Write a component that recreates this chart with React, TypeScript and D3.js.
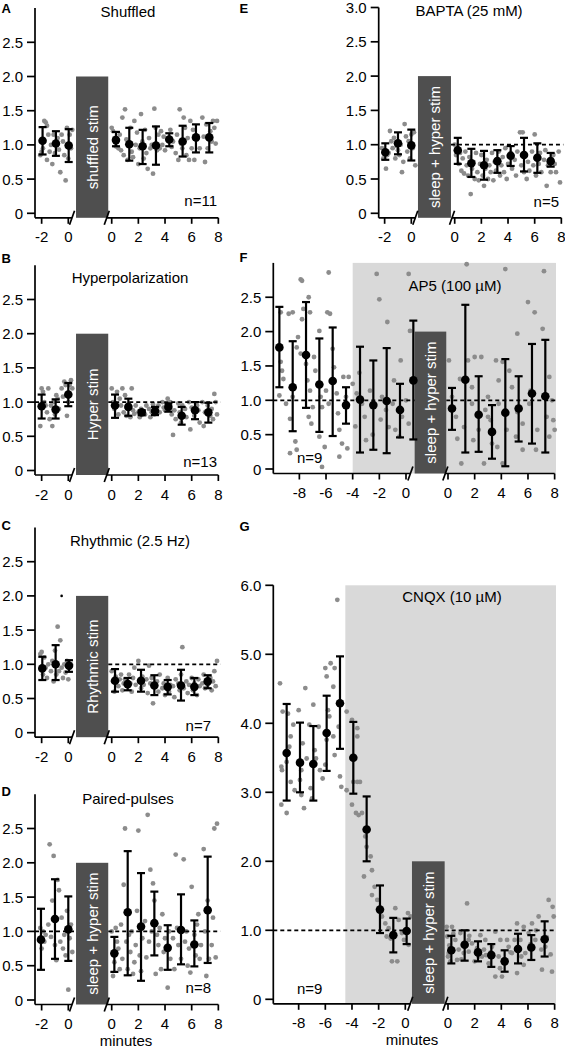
import React from 'react';
import * as d3 from 'd3';

type Pt = [number, number];
type Row = [number, number, number, number]; // time, mean, low, high

// ---------- tick labels ----------
const leftYTicks = [0, 0.5, 1, 1.5, 2, 2.5];
const eYTicks = [0, 0.5, 1, 1.5, 2, 2.5, 3];
const gYTicks = [0, 1, 2, 3, 4, 5, 6];
const shortPreTicks = [-2, 0];
const longPreTicks = [-8, -6, -4, -2, 0];
const postTicks = [0, 2, 4, 6, 8];

// ---------- A: Shuffled ----------
const aMeansPre: Row[] = [[-1.93, 1.06, 0.86, 1.26], [-0.93, 1.02, 0.84, 1.2], [0.03, 0.99, 0.75, 1.23]];
const aMeansPost: Row[] = [[0.32, 1.07, 0.98, 1.19], [1.32, 1.01, 0.77, 1.25], [2.32, 0.98, 0.72, 1.22], [3.32, 0.99, 0.71, 1.27], [4.32, 1.08, 0.98, 1.17], [5.32, 1.05, 0.83, 1.28], [6.32, 1.11, 0.89, 1.3], [7.32, 1.11, 0.89, 1.32]];
const aDotsPre: Pt[] = [[-2.1, 0.85], [-2.0, 0.9], [-1.8, 1.35], [-1.7, 1.33], [-1.6, 1.28], [-1.5, 1.15], [-1.9, 0.95], [-1.6, 0.78], [-1.4, 0.9], [-1.3, 1.0], [-1.2, 0.72], [-1.1, 1.15], [-1.0, 0.88], [-0.8, 1.1], [-0.7, 0.93], [-0.6, 0.6], [-0.5, 1.15], [-0.4, 1.05], [-0.3, 0.85], [-0.2, 0.48], [-0.1, 1.25], [0.0, 0.8], [0.1, 1.15], [0.2, 0.95], [0.3, 1.22]];
const aDotsPost: Pt[] = [[0.0, 1.25], [0.1, 1.2], [0.2, 1.1], [0.3, 0.98], [0.4, 1.05], [0.5, 0.95], [0.6, 1.15], [0.7, 0.92], [0.8, 1.4], [0.9, 0.85], [1.0, 1.52], [1.1, 1.08], [1.2, 0.78], [1.4, 1.25], [1.5, 0.9], [1.6, 0.82], [1.7, 1.35], [1.8, 1.0], [1.9, 1.18], [2.0, 0.72], [2.1, 0.95], [2.2, 1.45], [2.3, 1.05], [2.4, 0.8], [2.5, 1.22], [2.6, 0.88], [2.7, 0.65], [2.8, 1.1], [2.9, 0.95], [3.0, 1.0], [3.1, 0.58], [3.2, 1.53], [3.3, 1.25], [3.4, 0.92], [3.5, 1.15], [3.6, 0.95], [3.7, 1.2], [3.8, 1.0], [3.9, 1.12], [4.0, 0.92], [4.2, 1.1], [4.4, 1.22], [4.5, 0.97], [4.6, 1.05], [4.8, 0.88], [4.9, 1.15], [5.0, 0.78], [5.1, 1.52], [5.2, 1.02], [5.3, 0.95], [5.4, 1.4], [5.5, 1.25], [5.6, 0.85], [5.7, 1.1], [5.8, 0.78], [5.9, 1.35], [6.0, 0.95], [6.1, 1.22], [6.2, 0.78], [6.4, 1.08], [6.6, 0.95], [6.8, 1.4], [6.9, 1.12], [7.0, 0.75], [7.1, 1.3], [7.2, 0.95], [7.4, 1.2], [7.5, 1.05], [7.6, 1.35], [7.7, 1.25], [7.8, 1.02], [7.9, 1.35]];

// ---------- B: Hyperpolarization ----------
const bMeansPre: Row[] = [[-2.0, 0.94, 0.76, 1.11], [-0.95, 0.89, 0.76, 1.04], [0.0, 1.11, 0.94, 1.28]];
const bMeansPost: Row[] = [[0.25, 0.95, 0.77, 1.11], [1.25, 0.93, 0.8, 1.05], [2.25, 0.85, 0.81, 0.88], [3.25, 0.87, 0.81, 0.93], [4.25, 0.93, 0.86, 0.98], [5.25, 0.8, 0.67, 0.93], [6.25, 0.88, 0.75, 1.0], [7.25, 0.85, 0.7, 0.99]];
const bDotsPre: Pt[] = [[-2.1, 0.65], [-2.0, 1.2], [-1.9, 1.15], [-1.8, 1.0], [-1.7, 0.95], [-1.6, 0.85], [-1.5, 1.2], [-1.4, 0.75], [-1.3, 0.95], [-1.2, 0.65], [-1.1, 1.0], [-1.0, 0.82], [-0.9, 1.1], [-0.8, 1.05], [-0.7, 0.9], [-0.5, 1.2], [-0.4, 1.08], [-0.3, 1.3], [-0.2, 1.25], [-0.1, 0.8], [0.0, 1.0], [0.1, 1.25], [0.2, 1.32], [0.3, 1.2]];
const bDotsPost: Pt[] = [[0.0, 1.2], [0.1, 1.0], [0.2, 0.9], [0.4, 1.15], [0.5, 0.82], [0.6, 1.05], [0.7, 0.95], [0.8, 1.2], [0.9, 0.85], [1.0, 1.1], [1.1, 0.8], [1.2, 0.95], [1.4, 0.78], [1.5, 1.2], [1.6, 0.88], [1.7, 0.83], [1.8, 0.95], [2.0, 0.85], [2.1, 0.78], [2.2, 0.9], [2.4, 0.86], [2.5, 0.82], [2.6, 0.95], [2.8, 0.9], [2.9, 0.78], [3.0, 0.85], [3.1, 0.97], [3.2, 0.82], [3.4, 0.9], [3.5, 0.95], [3.6, 0.85], [3.8, 1.0], [3.9, 0.92], [4.0, 0.88], [4.2, 1.05], [4.3, 0.95], [4.4, 1.0], [4.5, 0.82], [4.6, 0.52], [4.7, 0.88], [4.8, 0.75], [5.0, 0.98], [5.1, 0.85], [5.2, 0.7], [5.3, 0.95], [5.5, 0.9], [5.6, 0.78], [5.8, 1.0], [5.9, 0.6], [6.0, 0.92], [6.2, 0.8], [6.4, 0.95], [6.5, 0.88], [6.6, 0.7], [6.8, 1.0], [6.9, 0.65], [7.0, 0.85], [7.2, 0.95], [7.4, 0.8], [7.5, 0.9], [7.6, 0.75], [7.7, 1.12], [7.8, 1.0], [7.9, 0.82]];

// ---------- C: Rhythmic ----------
const cMeansPre: Row[] = [[-1.95, 0.94, 0.77, 1.11], [-0.95, 1.0, 0.77, 1.28], [0.05, 0.98, 0.89, 1.06]];
const cMeansPost: Row[] = [[0.25, 0.76, 0.6, 0.93], [1.2, 0.71, 0.62, 0.8], [2.2, 0.76, 0.6, 0.92], [3.2, 0.69, 0.55, 0.84], [4.2, 0.67, 0.56, 0.77], [5.2, 0.69, 0.47, 0.92], [6.2, 0.67, 0.55, 0.8], [7.2, 0.75, 0.65, 0.84]];
const cOutlier: Pt[] = [[-0.5, 2.0]];
const cDotsPre: Pt[] = [[-2.1, 1.15], [-2.0, 1.18], [-1.9, 0.85], [-1.8, 1.1], [-1.7, 0.95], [-1.6, 0.8], [-1.5, 1.0], [-1.3, 0.9], [-1.2, 1.05], [-1.1, 0.75], [-1.0, 1.2], [-0.9, 0.85], [-0.8, 1.55], [-0.7, 0.9], [-0.6, 1.35], [-0.5, 0.95], [-0.4, 0.8], [-0.3, 1.0], [-0.2, 0.88], [-0.1, 1.05], [0.0, 0.78], [0.1, 0.95], [0.2, 1.0]];
const cDotsPost: Pt[] = [[0.0, 0.9], [0.1, 0.75], [0.2, 0.6], [0.3, 0.82], [0.5, 0.68], [0.6, 0.78], [0.7, 0.85], [0.8, 0.62], [0.9, 0.72], [1.0, 0.78], [1.2, 0.68], [1.3, 0.85], [1.4, 0.72], [1.5, 0.6], [1.6, 0.8], [1.7, 0.95], [1.8, 0.7], [2.0, 1.05], [2.1, 0.75], [2.2, 0.65], [2.3, 0.82], [2.4, 0.7], [2.6, 0.78], [2.7, 0.58], [2.8, 0.98], [2.9, 0.72], [3.0, 0.8], [3.1, 0.43], [3.2, 0.68], [3.4, 0.75], [3.5, 0.6], [3.6, 0.85], [3.8, 0.65], [3.9, 0.72], [4.0, 0.55], [4.2, 0.8], [4.3, 0.6], [4.4, 0.7], [4.6, 0.68], [4.7, 0.52], [4.8, 0.78], [5.0, 0.72], [5.1, 0.62], [5.2, 0.85], [5.3, 1.25], [5.4, 0.65], [5.6, 0.75], [5.7, 0.58], [5.8, 0.7], [6.0, 0.8], [6.1, 0.62], [6.2, 0.72], [6.4, 0.55], [6.5, 0.78], [6.6, 0.68], [6.8, 0.72], [6.9, 0.85], [7.0, 0.65], [7.2, 0.7], [7.4, 0.8], [7.5, 0.62], [7.6, 0.75], [7.7, 0.9], [7.8, 0.68], [7.9, 1.05]];

// ---------- D: Paired-pulses ----------
const dMeansPre: Row[] = [[-2.05, 0.88, 0.44, 1.33], [-1.0, 1.18, 0.6, 1.76], [0.0, 1.03, 0.57, 1.51]];
const dMeansPost: Row[] = [[0.2, 0.68, 0.41, 0.92], [1.2, 1.28, 0.36, 2.17], [2.2, 1.07, 0.28, 1.85], [3.2, 1.12, 0.65, 1.58], [4.2, 0.76, 0.44, 1.09], [5.2, 1.02, 0.52, 1.54], [6.2, 0.81, 0.49, 1.16], [7.2, 1.31, 0.54, 2.09]];
const dDotsPre: Pt[] = [[-2.0, 0.75], [-2.1, 1.05], [-1.9, 1.0], [-1.8, 0.85], [-1.7, 0.95], [-1.5, 1.1], [-1.4, 2.27], [-1.3, 0.92], [-1.2, 1.45], [-1.1, 2.1], [-1.0, 0.8], [-0.9, 0.58], [-0.8, 1.75], [-0.7, 1.6], [-0.6, 0.85], [-0.5, 1.2], [-0.4, 0.75], [-0.3, 0.95], [-0.2, 0.65], [-0.1, 1.3], [0.0, 0.15], [0.1, 0.9], [0.2, 1.1], [0.3, 0.7]];
const dDotsPost: Pt[] = [[0.0, 1.0], [0.1, 0.35], [0.2, 0.55], [0.3, 1.05], [0.4, 0.85], [0.5, 0.75], [0.6, 0.45], [0.7, 1.1], [0.8, 0.6], [0.9, 1.68], [1.0, 2.5], [1.1, 0.85], [1.2, 0.45], [1.3, 0.95], [1.4, 0.7], [1.5, 1.0], [1.6, 0.38], [1.7, 0.55], [1.8, 0.8], [1.9, 1.3], [2.0, 2.47], [2.1, 0.65], [2.2, 0.42], [2.3, 0.9], [2.5, 1.15], [2.6, 0.62], [2.7, 2.7], [2.8, 0.85], [2.9, 1.9], [3.0, 1.0], [3.1, 1.7], [3.2, 1.45], [3.3, 0.38], [3.4, 0.95], [3.5, 0.8], [3.6, 1.05], [3.7, 0.45], [3.8, 1.25], [3.9, 0.7], [4.0, 0.9], [4.2, 0.18], [4.3, 1.0], [4.4, 0.6], [4.6, 0.9], [4.7, 0.45], [4.8, 2.12], [4.9, 1.05], [5.0, 0.8], [5.2, 0.6], [5.4, 2.05], [5.5, 0.85], [5.6, 1.0], [5.7, 0.5], [5.8, 0.75], [5.9, 0.4], [6.0, 1.65], [6.2, 0.95], [6.3, 0.65], [6.4, 1.1], [6.5, 1.25], [6.6, 0.6], [6.7, 0.8], [6.9, 2.2], [7.0, 1.0], [7.1, 0.35], [7.2, 1.45], [7.3, 0.6], [7.5, 0.8], [7.6, 1.2], [7.7, 2.5], [7.8, 0.62], [7.9, 2.57]];

// ---------- E: BAPTA ----------
const eMeansPre: Row[] = [[-1.95, 0.89, 0.78, 1.02], [-1.0, 1.02, 0.86, 1.18], [0.0, 0.99, 0.77, 1.22]];
const eMeansPost: Row[] = [[0.23, 0.92, 0.72, 1.1], [1.25, 0.73, 0.53, 0.94], [2.2, 0.7, 0.49, 0.91], [3.2, 0.76, 0.59, 0.92], [4.2, 0.84, 0.69, 0.98], [5.2, 0.85, 0.61, 1.1], [6.2, 0.81, 0.59, 1.02], [7.2, 0.76, 0.68, 0.88]];
const eDotsPre: Pt[] = [[-2.2, 0.95], [-2.1, 0.8], [-2.0, 0.9], [-1.9, 0.65], [-1.8, 0.85], [-1.7, 0.88], [-1.6, 1.2], [-1.5, 1.05], [-1.4, 0.95], [-1.3, 1.1], [-1.2, 0.8], [-1.1, 0.98], [-1.0, 0.92], [-0.9, 0.85], [-0.8, 1.0], [-0.7, 0.6], [-0.6, 0.75], [-0.5, 1.3], [-0.4, 1.12], [-0.3, 0.9], [-0.2, 1.05], [-0.1, 0.8], [0.0, 1.15], [0.1, 0.95], [0.2, 1.18], [0.3, 0.7]];
const eDotsPost: Pt[] = [[0.0, 1.0], [0.1, 0.85], [0.2, 0.95], [0.3, 0.72], [0.4, 0.88], [0.5, 0.62], [0.6, 0.8], [0.7, 0.58], [0.8, 0.9], [0.9, 0.7], [1.0, 0.55], [1.1, 0.82], [1.2, 0.28], [1.3, 0.65], [1.4, 0.75], [1.5, 0.5], [1.6, 0.88], [1.7, 0.6], [1.8, 0.48], [1.9, 0.72], [2.0, 0.85], [2.1, 0.55], [2.2, 0.4], [2.3, 0.65], [2.4, 0.78], [2.5, 0.5], [2.6, 0.7], [2.7, 0.6], [2.8, 0.88], [2.9, 0.48], [3.0, 0.75], [3.1, 0.62], [3.3, 0.9], [3.4, 0.55], [3.5, 0.7], [3.6, 0.82], [3.7, 0.6], [3.8, 0.95], [3.9, 0.5], [4.0, 0.72], [4.2, 0.88], [4.3, 0.65], [4.5, 0.78], [4.6, 0.55], [4.7, 0.9], [4.9, 1.18], [5.0, 0.7], [5.1, 1.18], [5.2, 0.6], [5.3, 0.85], [5.4, 0.5], [5.5, 0.75], [5.6, 0.62], [5.8, 0.9], [5.9, 0.7], [6.0, 1.15], [6.1, 0.55], [6.3, 0.72], [6.4, 0.88], [6.5, 0.6], [6.7, 0.78], [6.8, 0.92], [6.9, 0.4], [7.0, 0.7], [7.2, 0.6], [7.4, 0.85], [7.5, 0.72], [7.6, 0.6], [7.8, 0.9], [7.9, 0.45]];

// ---------- F: AP5 ----------
const fMeansPre: Row[] = [[-9.5, 1.77, 1.19, 2.36], [-8.5, 1.19, 0.55, 1.86], [-7.5, 1.66, 0.89, 2.43], [-6.5, 1.23, 0.54, 1.9], [-5.5, 1.28, 0.48, 2.06], [-4.5, 0.93, 0.66, 1.19], [-3.45, 1.01, 0.24, 1.78], [-2.45, 0.93, 0.28, 1.58], [-1.45, 0.99, 0.23, 1.76], [-0.45, 0.86, 0.46, 1.24], [0.55, 1.29, 0.43, 2.16]];
const fMeansPost: Row[] = [[0.3, 0.88, 0.57, 1.18], [1.3, 1.3, 0.24, 2.39], [2.3, 0.79, 0.25, 1.35], [3.3, 0.54, 0.15, 0.93], [4.3, 0.82, 0.04, 1.6], [5.3, 0.88, 0.4, 1.35], [6.3, 1.1, 0.37, 1.82], [7.3, 1.06, 0.24, 1.88]];
const fDotsPre: Pt[] = [[-9.4, 2.28], [-8.8, 2.26], [-8.5, 2.28], [-7.9, 2.76], [-7.8, 2.18], [-7.2, 2.28], [-7.3, 2.5], [-6.5, 2.01], [-5.9, 2.28], [-5.8, 2.86], [-5.7, 2.26], [-9.4, 1.56], [-9.3, 1.43], [-9.2, 1.31], [-9.5, 1.07], [-9.0, 0.95], [-8.7, 0.73], [-8.5, 1.05], [-8.3, 0.4], [-8.2, 0.28], [-8.7, 0.23], [-8.1, 1.92], [-8.2, 1.77], [-7.9, 1.68], [-7.5, 1.53], [-7.4, 1.29], [-7.2, 1.14], [-7.3, 0.76], [-7.0, 0.9], [-6.9, 1.63], [-6.8, 1.43], [-6.6, 1.24], [-6.4, 1.05], [-6.3, 0.9], [-7.1, 0.66], [-6.5, 0.47], [-6.1, 0.32], [-6.3, 0.03], [-6.0, 1.14], [-5.8, 0.95], [-5.5, 1.75], [-5.4, 1.48], [-5.2, 1.1], [-5.1, 0.81], [-5.0, 0.57], [-4.8, 0.37], [-5.0, 0.18], [-4.7, 1.34], [-4.5, 1.05], [-4.4, 0.9], [-4.4, 0.3], [-7.8, 2.74], [-7.7, 2.33], [-4.3, 1.34], [-4.0, 1.24], [-3.7, 1.1], [-3.3, 0.95], [-3.1, 0.76], [-3.0, 0.42], [-2.7, 1.14], [-2.2, 2.84], [-2.0, 2.47], [-1.8, 1.05], [-1.5, 0.86], [-1.4, 2.14], [-1.3, 0.61], [-1.0, 0.95], [-0.9, 1.29], [-0.8, 0.57], [-0.5, 0.47], [-0.4, 1.58], [-0.3, 0.76], [0.0, 1.0], [0.2, 2.84], [0.2, 0.66], [0.3, 2.01], [-3.8, 0.62], [-2.5, 0.5], [-1.9, 0.72], [-3.5, 1.4]];
const fDotsPost: Pt[] = [[0.07, 1.58], [0.3, 1.05], [0.6, 0.76], [0.7, 0.44], [1.0, 0.08], [1.4, 2.98], [1.5, 1.58], [1.8, 0.95], [1.9, 0.42], [2.0, 1.63], [2.5, 1.63], [2.7, 0.08], [2.8, 0.86], [3.0, 1.05], [3.2, 0.71], [3.6, 1.58], [3.7, 0.32], [3.8, 0.95], [4.1, 1.56], [4.3, 2.91], [4.4, 0.57], [4.8, 1.19], [5.1, 0.47], [5.2, 1.97], [5.3, 0.86], [5.6, 0.66], [6.0, 2.43], [6.2, 1.14], [6.5, 2.28], [6.7, 0.57], [7.1, 2.04], [7.2, 2.88], [7.4, 0.76], [7.6, 1.34], [7.8, 1.0], [7.9, 0.71], [8.0, 0.57], [4.6, 1.43], [3.3, 0.37], [2.3, 0.57], [1.2, 0.61], [0.9, 1.31], [3.0, 0.76], [4.1, 0.08], [5.6, 0.28], [6.6, 0.28], [7.6, 0.47], [1.8, 1.19], [3.8, 1.29], [5.2, 0.83], [6.1, 0.95]];

// ---------- G: CNQX ----------
const gMeansPre: Row[] = [[-8.9, 3.57, 2.88, 4.28], [-7.9, 3.43, 3.0, 4.01], [-6.9, 3.41, 2.88, 3.96], [-5.9, 3.86, 3.31, 4.4], [-4.9, 4.29, 3.63, 4.97], [-3.9, 3.5, 2.98, 4.02], [-2.9, 2.46, 2.0, 2.94], [-1.9, 1.3, 0.96, 1.65], [-0.9, 0.93, 0.68, 1.18], [0.1, 0.99, 0.8, 1.17]];
const gMeansPost: Row[] = [[0.25, 0.71, 0.52, 0.92], [1.25, 0.79, 0.56, 1.0], [2.25, 0.68, 0.55, 0.84], [3.25, 0.64, 0.47, 0.8], [4.25, 0.55, 0.4, 0.71], [5.25, 0.73, 0.52, 0.95], [6.25, 0.75, 0.57, 0.93], [7.25, 0.87, 0.62, 1.13]];
const gDotsPre: Pt[] = [[-9.4, 4.58], [-9.3, 3.37], [-9.25, 3.32], [-9.3, 2.82], [-8.9, 2.7], [-9.2, 4.17], [-8.8, 4.14], [-8.9, 3.44], [-8.7, 3.66], [-8.6, 3.81], [-8.6, 3.15], [-8.4, 3.98], [-8.3, 3.03], [-8.0, 4.19], [-7.9, 3.18], [-7.8, 3.32], [-7.8, 2.96], [-7.7, 3.71], [-7.6, 2.77], [-7.5, 4.51], [-7.4, 3.49], [-7.2, 3.98], [-7.1, 3.06], [-7.0, 2.91], [-6.9, 4.27], [-6.8, 3.61], [-6.7, 3.49], [-6.5, 3.95], [-6.4, 3.32], [-6.2, 3.2], [-6.0, 4.8], [-5.9, 4.68], [-5.8, 4.19], [-6.0, 3.4], [-5.9, 3.76], [-5.7, 4.1], [-5.6, 4.87], [-5.1, 5.79], [-5.4, 4.53], [-5.3, 4.8], [-5.4, 3.81], [-5.3, 3.54], [-5.0, 3.95], [-4.9, 3.23], [-4.8, 3.08], [-4.4, 4.17], [-4.0, 4.05], [-3.6, 3.93], [-4.4, 3.03], [-4.0, 2.82], [-3.9, 3.15], [-3.6, 3.15], [-3.4, 3.15], [-3.6, 3.81], [-3.7, 2.7], [-3.5, 2.67], [-3.25, 2.7], [-3.0, 2.36], [-2.9, 2.21], [-2.6, 2.07], [-2.5, 1.87], [-3.1, 1.78], [-2.3, 1.63], [-2.5, 1.51], [-2.1, 1.44], [-1.9, 1.32], [-1.75, 1.2], [-1.5, 1.1], [-1.25, 1.03], [-1.4, 0.91], [-1.1, 0.88], [-1.0, 0.55], [-0.6, 0.55], [-0.75, 1.32], [-0.5, 1.15], [-0.25, 0.96], [-0.1, 0.86], [0.2, 1.25], [0.4, 1.2], [0.25, 0.79]];
const gDotsPost: Pt[] = [[-0.1, 1.05], [-0.05, 0.91], [0.05, 0.67], [0.18, 0.55], [0.3, 1.05], [0.55, 0.86], [0.68, 0.57], [0.93, 0.96], [1.18, 0.67], [1.43, 1.39], [1.55, 0.86], [1.8, 0.81], [2.0, 0.55], [2.18, 0.74], [2.43, 0.93], [2.55, 0.62], [2.8, 0.86], [3.05, 0.52], [3.3, 0.76], [3.55, 0.33], [3.8, 0.62], [4.05, 0.33], [4.43, 0.86], [4.8, 0.67], [5.18, 1.1], [5.43, 0.86], [5.68, 1.05], [5.8, 0.67], [6.05, 0.96], [6.3, 1.1], [6.55, 0.86], [6.8, 1.2], [7.05, 0.43], [7.3, 0.76], [7.55, 1.44], [7.85, 1.34], [7.93, 1.2], [7.8, 0.4], [5.18, 0.38], [5.68, 0.5], [3.93, 0.86], [1.55, 0.69], [2.85, 0.64], [4.55, 0.76], [3.55, 0.98], [0.0, 0.62], [0.1, 0.78], [0.4, 0.95], [0.8, 0.72], [1.0, 0.58], [1.6, 0.92], [2.3, 0.62], [2.7, 0.72], [3.2, 0.68], [3.9, 0.45], [4.2, 0.58], [4.7, 0.68], [5.0, 0.86], [5.5, 0.62], [6.2, 0.8], [6.6, 1.0], [7.0, 0.72], [7.4, 0.9], [7.7, 0.65]];

const FONT = "'Liberation Sans', Arial, Helvetica, sans-serif";
const DOT = '#8c8c8c';
const BOX = '#4f4f4f';
const BG = '#d9d9d9';

interface Cfg {
  letter: string; lx: number; ly: number;
  title: string; tx: number; ty: number;
  axisX: number; zeroY: number; unit: number; yMax: number; yTicks: number[];
  pre0: number; post0: number; k: number; preTicks: number[];
  box: [number, number]; boxText: string; slash: [number, number];
  dashPre: boolean; dashPost: boolean; bgStart: number | null;
  n: string; nx: number; ny: number; nAnchor: 'start' | 'end';
  xlabelX: number | null;
  preMeans: Row[]; postMeans: Row[]; preDots: Pt[]; postDots: Pt[]; extra?: Pt[];
}

const panels: Cfg[] = [
  { letter: 'A', lx: 1.5, ly: 8, title: 'Shuffled', tx: 128, ty: 11, axisX: 35, zeroY: 213.3, unit: 68.4, yMax: 3, yTicks: leftYTicks, pre0: 68.3, post0: 111.7, k: 13.33, preTicks: shortPreTicks, box: [0.58, -0.26], boxText: 'shuffled stim', slash: [0.28, -0.37], dashPre: false, dashPost: false, bgStart: null, n: 'n=11', nx: 217, ny: 200, nAnchor: 'end', xlabelX: null, preMeans: aMeansPre, postMeans: aMeansPost, preDots: aDotsPre, postDots: aDotsPost },
  { letter: 'B', lx: 1.5, ly: 258.7, title: 'Hyperpolarization', tx: 130, ty: 277, axisX: 35, zeroY: 470.5, unit: 68.4, yMax: 3, yTicks: leftYTicks, pre0: 68.3, post0: 111.7, k: 13.33, preTicks: shortPreTicks, box: [0.58, -0.26], boxText: 'Hyper stim', slash: [0.28, -0.37], dashPre: true, dashPost: true, bgStart: null, n: 'n=13', nx: 217, ny: 461, nAnchor: 'end', xlabelX: null, preMeans: bMeansPre, postMeans: bMeansPost, preDots: bDotsPre, postDots: bDotsPost },
  { letter: 'C', lx: 1.5, ly: 525.7, title: 'Rhythmic (2.5 Hz)', tx: 130, ty: 540, axisX: 35, zeroY: 732.7, unit: 68.4, yMax: 3, yTicks: leftYTicks, pre0: 68.3, post0: 111.7, k: 13.33, preTicks: shortPreTicks, box: [0.58, -0.26], boxText: 'Rhythmic stim', slash: [0.28, -0.37], dashPre: false, dashPost: true, bgStart: null, n: 'n=7', nx: 211, ny: 725, nAnchor: 'end', xlabelX: null, preMeans: cMeansPre, postMeans: cMeansPost, preDots: cDotsPre, postDots: cDotsPost, extra: cOutlier },
  { letter: 'D', lx: 1.5, ly: 791.3, title: 'Paired-pulses', tx: 128, ty: 798, axisX: 35, zeroY: 1000, unit: 68.6, yMax: 3, yTicks: leftYTicks, pre0: 68.3, post0: 111.7, k: 13.33, preTicks: shortPreTicks, box: [0.58, -0.26], boxText: 'sleep + hyper stim', slash: [0.28, -0.37], dashPre: true, dashPost: true, bgStart: null, n: 'n=8', nx: 211, ny: 987, nAnchor: 'end', xlabelX: 126, preMeans: dMeansPre, postMeans: dMeansPost, preDots: dDotsPre, postDots: dDotsPost },
  { letter: 'E', lx: 239.5, ly: 8, title: 'BAPTA (25 mM)', tx: 469, ty: 10, axisX: 378.7, zeroY: 213.3, unit: 68.6, yMax: 3, yTicks: eYTicks, pre0: 411.3, post0: 454.7, k: 13.33, preTicks: shortPreTicks, box: [0.5, -0.28], boxText: 'sleep + hyper stim', slash: [0.3, -0.2], dashPre: false, dashPost: true, bgStart: null, n: 'n=5', nx: 559, ny: 201, nAnchor: 'end', xlabelX: null, preMeans: eMeansPre, postMeans: eMeansPost, preDots: eDotsPre, postDots: eDotsPost },
  { letter: 'F', lx: 239.5, ly: 257.5, title: 'AP5 (100 µM)', tx: 455, ty: 285, axisX: 273.3, zeroY: 469, unit: 68.7, yMax: 3, yTicks: leftYTicks, pre0: 406, post0: 448, k: 13.33, preTicks: longPreTicks, box: [0.65, -0.13], boxText: 'sleep + hyper stim', slash: [0.33, -0.2], dashPre: true, dashPost: true, bgStart: -4.0, n: 'n=9', nx: 297, ny: 457, nAnchor: 'start', xlabelX: null, preMeans: fMeansPre, postMeans: fMeansPost, preDots: fDotsPre, postDots: fDotsPost },
  { letter: 'G', lx: 239.5, ly: 526, title: 'CNQX (10 µM)', tx: 452, ty: 596, axisX: 273.3, zeroY: 999.3, unit: 69, yMax: 6, yTicks: gYTicks, pre0: 405.3, post0: 448, k: 13.33, preTicks: longPreTicks, box: [0.5, -0.25], boxText: 'sleep + hyper stim', slash: [0.37, -0.2], dashPre: true, dashPost: true, bgStart: -4.5, n: 'n=9', nx: 297, ny: 988, nAnchor: 'start', xlabelX: 412, preMeans: gMeansPre, postMeans: gMeansPost, preDots: gDotsPre, postDots: gDotsPost },
];

const fmtY = (v: number) => (v === 0 ? '0' : d3.format('.1f')(v));

function Panel({ c }: { c: Cfg }) {
  const xPre = d3.scaleLinear().domain([-10, 0]).range([c.pre0 - 10 * c.k, c.pre0]);
  const xPost = d3.scaleLinear().domain([0, 8]).range([c.post0, c.post0 + 8 * c.k]);
  const y = d3.scaleLinear().domain([0, c.yMax]).range([c.zeroY, c.zeroY - c.yMax * c.unit]);
  const axisY = c.zeroY + 4.5;
  const yTop = y(c.yMax);
  const boxL = xPre(c.box[0]);
  const boxR = xPost(c.box[1]);
  const boxT = y(2);
  const endX = xPost(8);
  const s1 = xPre(c.slash[0]);
  const s2 = xPost(c.slash[1]);
  const y1 = y(1);

  const bar = (r: Row, xs: d3.ScaleLinear<number, number>, i: number) => {
    const x = xs(r[0]);
    return (
      <g key={i}>
        <line x1={x} x2={x} y1={y(r[2])} y2={y(r[3])} stroke="#000" strokeWidth={2.2} />
        <line x1={x - 4} x2={x + 4} y1={y(r[2])} y2={y(r[2])} stroke="#000" strokeWidth={2.2} />
        <line x1={x - 4} x2={x + 4} y1={y(r[3])} y2={y(r[3])} stroke="#000" strokeWidth={2.2} />
        <circle cx={x} cy={y(r[1])} r={4.3} fill="#000" />
      </g>
    );
  };

  return (
    <g>
      {c.bgStart !== null && (
        <rect x={xPre(c.bgStart)} y={yTop} width={xPost(8.1) - xPre(c.bgStart)} height={axisY - yTop} fill={BG} />
      )}
      {c.preDots.map((p, i) => <circle key={'p' + i} cx={xPre(p[0])} cy={y(p[1])} r={2.4} fill={DOT} />)}
      {c.postDots.map((p, i) => <circle key={'q' + i} cx={xPost(p[0])} cy={y(p[1])} r={2.4} fill={DOT} />)}
      {c.dashPre && <line x1={c.axisX} x2={boxL} y1={y1} y2={y1} stroke="#000" strokeWidth={1.8} strokeDasharray="4,3" />}
      {c.dashPost && <line x1={boxR} x2={xPost(8.15)} y1={y1} y2={y1} stroke="#000" strokeWidth={1.8} strokeDasharray="4,3" />}
      <rect x={boxL} y={boxT} width={boxR - boxL} height={axisY - boxT} fill={BOX} />
      <text
        x={(boxL + boxR) / 2}
        y={(boxT + axisY) / 2}
        transform={`rotate(-90, ${(boxL + boxR) / 2}, ${(boxT + axisY) / 2})`}
        textAnchor="middle"
        dominantBaseline="central"
        fill="#fff"
        fontSize={15}
      >
        {c.boxText}
      </text>
      {c.extra && c.extra.map((p, i) => <circle key={'e' + i} cx={xPre(p[0])} cy={y(p[1])} r={1.3} fill="#000" />)}
      {c.preMeans.map((r, i) => bar(r, xPre, i))}
      {c.postMeans.map((r, i) => bar(r, xPost, 100 + i))}
      {/* y axis */}
      <line x1={c.axisX} x2={c.axisX} y1={yTop} y2={axisY} stroke="#000" strokeWidth={1.7} />
      {c.yTicks.map((t) => (
        <g key={'yt' + t}>
          <line x1={c.axisX - 8} x2={c.axisX} y1={y(t)} y2={y(t)} stroke="#000" strokeWidth={1.7} />
          <text x={c.axisX - 12} y={y(t)} textAnchor="end" dominantBaseline="central" fontSize={15}>{fmtY(t)}</text>
        </g>
      ))}
      {/* x axis */}
      <line x1={c.axisX} x2={s1} y1={axisY} y2={axisY} stroke="#000" strokeWidth={1.7} />
      <line x1={s2} x2={endX} y1={axisY} y2={axisY} stroke="#000" strokeWidth={1.7} />
      <line x1={s1 - 2.5} x2={s1 + 2.5} y1={axisY + 7} y2={axisY - 7} stroke="#000" strokeWidth={1.7} />
      <line x1={s2 - 2.5} x2={s2 + 2.5} y1={axisY + 7} y2={axisY - 7} stroke="#000" strokeWidth={1.7} />
      {c.preTicks.map((t) => (
        <g key={'xp' + t}>
          <line x1={xPre(t)} x2={xPre(t)} y1={axisY} y2={axisY + 6} stroke="#000" strokeWidth={1.7} />
          <text x={xPre(t)} y={axisY + 19} textAnchor="middle" dominantBaseline="central" fontSize={15}>{t}</text>
        </g>
      ))}
      {postTicks.map((t) => (
        <g key={'xq' + t}>
          <line x1={xPost(t)} x2={xPost(t)} y1={axisY} y2={axisY + 6} stroke="#000" strokeWidth={1.7} />
          <text x={xPost(t)} y={axisY + 19} textAnchor="middle" dominantBaseline="central" fontSize={15}>{t}</text>
        </g>
      ))}
      {c.xlabelX !== null && (
        <text x={c.xlabelX} y={axisY + 36} textAnchor="middle" dominantBaseline="central" fontSize={15}>minutes</text>
      )}
      <text x={c.tx} y={c.ty} textAnchor="middle" dominantBaseline="central" fontSize={15}>{c.title}</text>
      <text x={c.nx} y={c.ny} textAnchor={c.nAnchor} dominantBaseline="central" fontSize={15}>{c.n}</text>
      <text x={c.lx} y={c.ly} dominantBaseline="central" fontSize={13} fontWeight="bold">{c.letter}</text>
    </g>
  );
}

export default function App() {
  return (
    <svg
      width={565}
      height={1050}
      viewBox="0 0 565 1050"
      style={{ position: 'absolute', left: 0, top: 0, background: '#fff' }}
      fontFamily={FONT}
    >
      <rect x={0} y={0} width={565} height={1050} fill="#fff" />
      {panels.map((c) => <Panel key={c.letter} c={c} />)}
    </svg>
  );
}
